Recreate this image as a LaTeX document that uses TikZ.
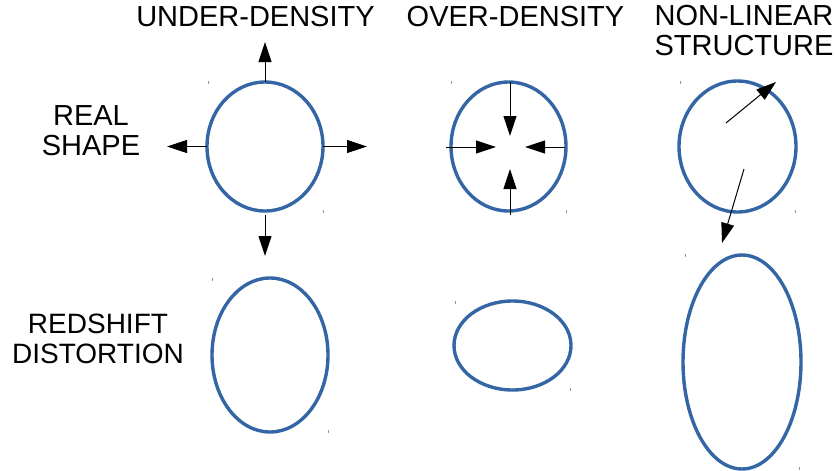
\documentclass[tikz,border=0pt]{standalone}
\usepackage{fontspec}
\setmainfont{Liberation Sans}
\usetikzlibrary{arrows.meta,shapes.geometric}
\definecolor{shapeblue}{RGB}{52,101,164}
\definecolor{tickblue}{RGB}{120,155,200}
\begin{document}
\begin{tikzpicture}[x=1pt,y=-1pt,
  blob/.style={draw=shapeblue,line width=3.4pt,ellipse,inner sep=0pt,outer sep=0pt},
  flow/.style={line width=1pt,-{Triangle[length=20pt,width=13pt]}},
  lbl/.style={font=\fontsize{29}{30}\selectfont,align=center,inner sep=0pt},
  tick/.style={draw=tickblue,line width=1pt}]
\useasboundingbox (0,0) rectangle (835,471);
% labels (base = baseline of the last line)
\node[lbl,anchor=base] (tu) at (255.5,27) {UNDER-DENSITY};
\node[lbl,anchor=base] (to) at (515.5,27) {OVER-DENSITY};
\node[lbl,anchor=base] (tn) at (744,55) {NON-LINEAR\\STRUCTURE};
\node[lbl,anchor=base] (tr) at (91,155) {REAL\\SHAPE};
\node[lbl,anchor=base,font=\fontsize{28}{30}\selectfont] (td) at (98,363) {REDSHIFT\\DISTORTION};
% top row shapes
\node[blob,minimum width=116pt,minimum height=129pt] (e1) at (265,146.5) {};
\node[blob,minimum width=115pt,minimum height=129pt] (e2) at (508.5,146.5) {};
\node[blob,minimum width=117pt,minimum height=131pt] (e3) at (737.5,146.5) {};
% bottom row shapes
\node[blob,minimum width=116pt,minimum height=154pt] (e4) at (270,355) {};
\node[blob,minimum width=117pt,minimum height=89pt] (e5) at (512.5,345.5) {};
\node[blob,minimum width=118pt,minimum height=214pt] (e6) at (742,362) {};
% under-density arrows
\coordinate (u1) at (265,42);
\coordinate (u2) at (167,146.5);
\coordinate (u3) at (367,146.5);
\coordinate (u4s) at (265,215);
\coordinate (u4) at (265,256);
\draw[flow] (e1.north) -- (u1);
\draw[flow] (e1.west) -- (u2);
\draw[flow] (e1.east) -- (u3);
\draw[flow] (u4s) -- (u4);
% over-density arrows
\coordinate (o1s) at (510,82);
\coordinate (o1) at (510,136);
\coordinate (o2s) at (446,147);
\coordinate (o2) at (496,147);
\coordinate (o3s) at (565,147);
\coordinate (o3) at (525,147);
\coordinate (o4s) at (510,215);
\coordinate (o4) at (510,169);
\draw[flow] (o1s) -- (o1);
\draw[flow] (o2s) -- (o2);
\draw[flow] (o3s) -- (o3);
\draw[flow] (o4s) -- (o4);
% non-linear arrows
\coordinate (n1s) at (726,123);
\coordinate (n1) at (776,82);
\coordinate (n2s) at (744,169);
\coordinate (n2) at (722,243);
\draw[flow] (n1s) -- (n1);
\draw[flow] (n2s) -- (n2);
% small corner ticks
\foreach \x/\y in {208/82,323/211,451/82,566/211,680/82,795/211,212/279,328/431,455/302,570/389,685/255,799/468}
  \draw[tick] (\x,\y-1.5) -- (\x,\y+1.5);
\end{tikzpicture}
\end{document}
